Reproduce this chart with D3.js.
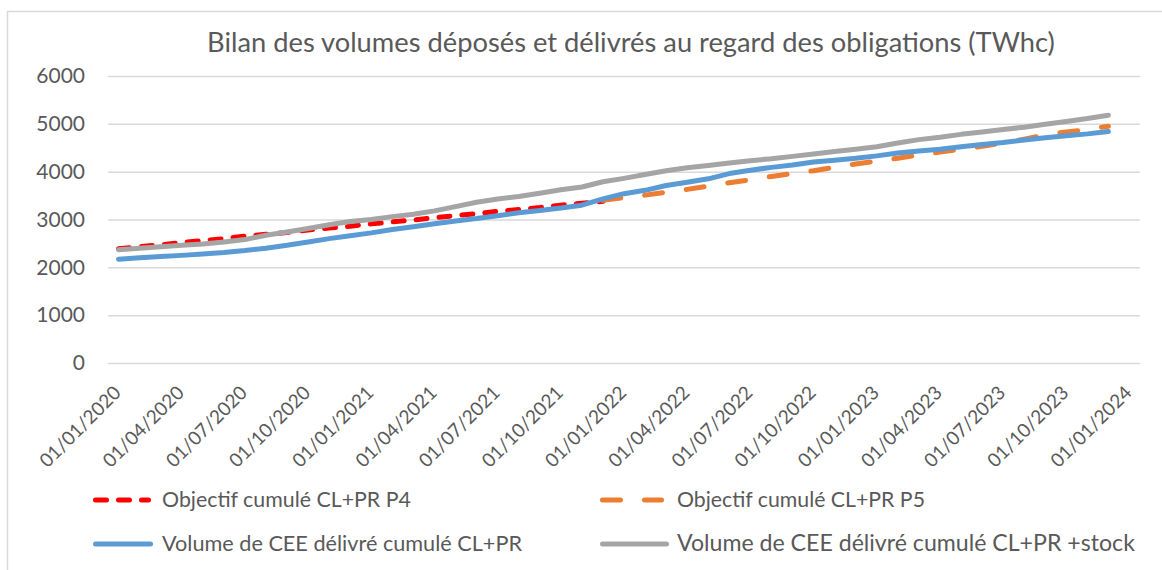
<!DOCTYPE html>
<html>
<head>
<meta charset="utf-8">
<script src="https://cdn.jsdelivr.net/npm/d3@7"></script>
<style>
  body { margin: 0; background: #fff; }
  svg { display: block; font-family: Lato, "Open Sans", sans-serif; }
</style>
</head>
<body>
<svg id="chart" width="1162" height="570"></svg>
<script>
// ---- data ----
const title = "Bilan des volumes déposés et délivrés au regard des obligations (TWhc)";

const tickLabels = [
  "01/01/2020", "01/04/2020", "01/07/2020", "01/10/2020",
  "01/01/2021", "01/04/2021", "01/07/2021", "01/10/2021",
  "01/01/2022", "01/04/2022", "01/07/2022", "01/10/2022",
  "01/01/2023", "01/04/2023", "01/07/2023", "01/10/2023",
  "01/01/2024"
];

const yTicks = [0, 1000, 2000, 3000, 4000, 5000, 6000];

const seriesNames = [
  "Objectif cumulé CL+PR P4",
  "Objectif cumulé CL+PR P5",
  "Volume de CEE délivré cumulé CL+PR",
  "Volume de CEE délivré cumulé CL+PR +stock"
];

// monthly values, first month of each series
const startP4 = "01/01/2020";
const startP5 = "01/12/2021";
const startDelivered = "01/01/2020";

const objP4 = [
  2390, 2430, 2470, 2520, 2560, 2600, 2650, 2690, 2730, 2780, 2820, 2860,
  2910, 2950, 2990, 3040, 3080, 3120, 3170, 3210, 3250, 3300, 3340, 3380
];

const objP5 = [
  3400,
  3460, 3510, 3570, 3630, 3700, 3770, 3830, 3900, 3960, 4020, 4090, 4160,
  4220, 4280, 4350, 4410, 4470, 4530, 4600, 4680, 4770, 4830, 4880, 4950
];

const delivered = [
  2170, 2200, 2225, 2250, 2280, 2310, 2350, 2400, 2460, 2530, 2600, 2660,
  2720, 2790, 2850, 2910, 2970, 3020, 3080, 3140, 3190, 3240, 3300, 3430,
  3540, 3610, 3710, 3780, 3850, 3960, 4030, 4090, 4140, 4200, 4240, 4280,
  4330, 4390, 4430, 4470, 4520, 4570, 4610, 4660, 4710, 4750, 4790, 4840
];

const deliveredStock = [
  2370, 2400, 2430, 2460, 2490, 2530, 2580, 2670, 2740, 2810, 2890, 2960,
  3000, 3060, 3110, 3180, 3270, 3360, 3430, 3480, 3550, 3620, 3680, 3790,
  3860, 3940, 4020, 4080, 4130, 4180, 4230, 4270, 4320, 4370, 4420, 4470,
  4520, 4600, 4670, 4720, 4780, 4830, 4880, 4930, 4990, 5050, 5110, 5180
];

// ---- setup ----
const W = 1162;
const H = 570;
const plotLeft = 108;
const plotRight = 1140;
const plotTop = 76;
const plotBottom = 363;
const TEXT = "#595959";
const GRID = "#D9D9D9";

const parse = d3.timeParse("%d/%m/%Y");
const fmt = d3.timeFormat("%d/%m/%Y");

// one category per month, Jan 2020 .. Jan 2024
const months = d3.timeMonth.range(parse(tickLabels[0]), d3.timeDay.offset(parse(tickLabels[tickLabels.length - 1]), 1));

const scaleX = d3.scalePoint()
  .domain(months.map(d => +d))
  .range([plotLeft, plotRight])
  .padding(0.5);

const scaleY = d3.scaleLinear()
  .domain([0, 6000])
  .range([plotBottom, plotTop]);

function toPoints(values, start) {
  const first = parse(start);
  return values.map((v, i) => ({ date: d3.timeMonth.offset(first, i), value: v }));
}

const series = [
  { name: seriesNames[0], values: toPoints(objP4, startP4), color: "#FF0000", dash: "11,12" },
  { name: seriesNames[1], values: toPoints(objP5, startP5), color: "#ED7D31", dash: "18,24" },
  { name: seriesNames[2], values: toPoints(delivered, startDelivered), color: "#5B9BD5", dash: null },
  { name: seriesNames[3], values: toPoints(deliveredStock, startDelivered), color: "#A5A5A5", dash: null }
];

const $svg = d3.select("#chart");

$svg.append("rect")
  .attr("width", W)
  .attr("height", H)
  .attr("fill", "#fff");

// chart border (top and left edges visible)
$svg.append("path")
  .attr("d", `M7.5,${H} V11.5 H${W}`)
  .attr("fill", "none")
  .attr("stroke", GRID)
  .attr("stroke-width", 1.5);

// title
const $title = $svg.append("text")
  .attr("x", 631)
  .attr("y", 52)
  .attr("text-anchor", "middle")
  .attr("fill", TEXT)
  .attr("font-size", 26)
  .text(title);

function fitText($t, target) {
  const len = $t.node().getComputedTextLength();
  const fs = parseFloat($t.attr("font-size"));
  $t.attr("font-size", (fs * target / len).toFixed(2));
}
fitText($title, 848);

// y axis + gridlines
const axisY = d3.axisLeft(scaleY)
  .tickValues(yTicks)
  .tickSize(-(plotRight - plotLeft))
  .tickPadding(23)
  .tickFormat(d3.format("d"));

$svg.append("g")
  .attr("class", "axis--y")
  .attr("transform", `translate(${plotLeft},0)`)
  .call(axisY)
  .call(g => g.select(".domain").remove())
  .call(g => g.selectAll("line").attr("stroke", GRID).attr("stroke-width", 1.5))
  .call(g => g.selectAll("text")
    .attr("fill", TEXT)
    .attr("font-size", 21)
    .attr("font-family", "Lato, 'Open Sans', sans-serif"));

// x axis, rotated labels
const axisX = d3.axisBottom(scaleX)
  .tickValues(tickLabels.map(d => +parse(d)))
  .tickSize(0)
  .tickFormat(d => fmt(new Date(d)));

$svg.append("g")
  .attr("class", "axis--x")
  .attr("transform", `translate(0,${plotBottom})`)
  .call(axisX)
  .call(g => g.select(".domain").remove())
  .call(g => g.selectAll("text")
    .attr("fill", TEXT)
    .attr("font-size", 19)
    .attr("font-family", "Lato, 'Open Sans', sans-serif")
    .attr("text-anchor", "end")
    .attr("y", 0)
    .attr("dy", 0)
    .attr("transform", "translate(3,31) rotate(-45)"));

// lines
const line = d3.line()
  .x(d => scaleX(+d.date))
  .y(d => scaleY(d.value));

const $vis = $svg.append("g").attr("class", "g-vis");

$vis.selectAll("path.series")
  .data(series)
  .join("path")
  .attr("class", "series")
  .attr("d", d => line(d.values))
  .attr("fill", "none")
  .attr("stroke", d => d.color)
  .attr("stroke-width", 5)
  .attr("stroke-linecap", "round")
  .attr("stroke-linejoin", "round")
  .attr("stroke-dasharray", d => d.dash);

// legend
const legendPos = [
  { x0: 93, x1: 151, tx: 162, y: 500, width: 249 },
  { x0: 600, x1: 664, tx: 677, y: 500, width: 248 },
  { x0: 93, x1: 153, tx: 162, y: 544, width: 360 },
  { x0: 600, x1: 669, tx: 677, y: 544, width: 458 }
];

const $legend = $svg.append("g").attr("class", "legend");

series.forEach((s, i) => {
  const p = legendPos[i];
  const $item = $legend.append("g");
  $item.append("line")
    .attr("x1", p.x0 + 2.5)
    .attr("x2", p.x1 - 2.5)
    .attr("y1", p.y)
    .attr("y2", p.y)
    .attr("stroke", s.color)
    .attr("stroke-width", 5)
    .attr("stroke-linecap", "round")
    .attr("stroke-dasharray", s.dash);
  const $t = $item.append("text")
    .attr("x", p.tx)
    .attr("y", p.y + 7)
    .attr("fill", TEXT)
    .attr("font-size", 21)
    .text(s.name);
  fitText($t, p.width);
});
</script>
</body>
</html>
